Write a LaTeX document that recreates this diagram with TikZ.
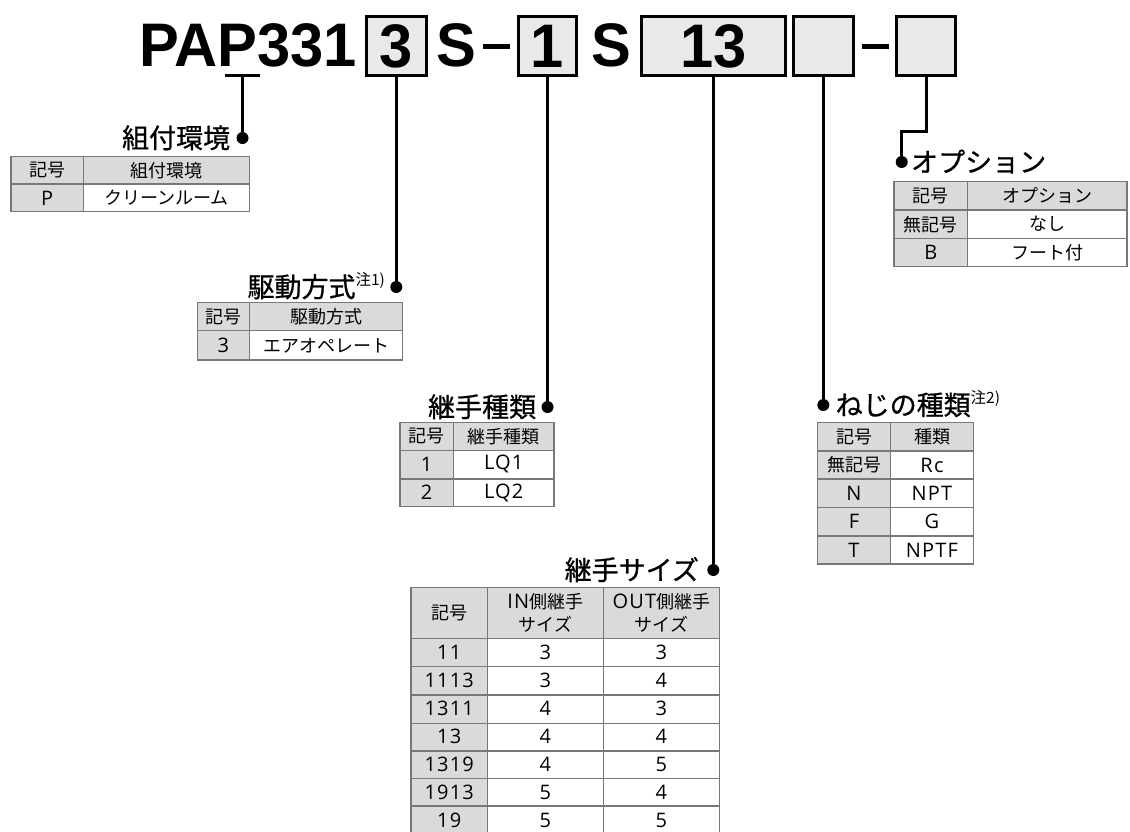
\documentclass[tikz,border=0pt]{standalone}
\usepackage{fontspec}
\newfontfamily\jp{Noto Sans CJK JP}
\newfontfamily\jpttl[FakeBold=0.8]{Noto Sans CJK JP}
\newfontfamily\latfont[LetterSpace=6]{Open Sans}
\newfontfamily\hdfont[FakeStretch=0.97]{Liberation Sans}
\newcommand\notesize{\jp\fontsize{15.5}{15.5}\selectfont}
\newcommand\lat{\latfont\fontsize{20}{23}\selectfont}
\definecolor{boxgray}{RGB}{232,233,233}
\definecolor{cellgray}{RGB}{218,218,218}
\definecolor{linegray}{RGB}{120,120,120}
\tikzset{
	hd/.style={inner sep=0pt, font=\hdfont\bfseries\fontsize{61.5}{61.5}\selectfont},
	code/.style={hd, draw, line width=3pt, fill=boxgray, minimum height=59.3pt},
	bar/.style={fill, inner sep=0pt, minimum width=27pt, minimum height=4.5pt},
	lead/.style={line width=3pt},
	dot/.style={circle, fill, inner sep=0pt, minimum size=12pt},
	ttl/.style={inner sep=0pt, font=\jpttl\fontsize{27}{27}\selectfont},
	cell/.style={inner sep=0pt, align=center, font=\jp\fontsize{18}{23}\selectfont},
	latcell/.style={cell, font=\lat},
	grid/.style={draw=linegray, line width=1.4pt}
}

\begin{document}
\begin{tikzpicture}[x=1pt,y=-1pt]
	\useasboundingbox (0,0) rectangle (1130,831);
	% model code
	\node[hd, anchor=base west] (pap) at (139,66.7) {PAP331};
	\node[code, minimum width=59.7pt] (b3) at (396.3,46.2) {3};
	\node[hd, anchor=base] (s1) at (456.5,66.7) {S};
	\node[bar] (dash1) at (496.5,46.7) {};
	\node[code, minimum width=58.6pt] (b1) at (547.5,46.2) {1};
	\node[hd, anchor=base] (s2) at (611.5,66.7) {S};
	\node[code, minimum width=143.7pt] (b13) at (713.3,46.2) {13};
	\node[code, minimum width=60.3pt] (bthr) at (823.3,46.2) {};
	\node[bar] (dash2) at (875,46.7) {};
	\node[code, minimum width=59.3pt] (bopt) at (926.2,46.2) {};
	\node[fill, inner sep=0pt, minimum width=35pt, minimum height=3.3pt] (pbar) at (242.5,75.5) {};

	% dots and titles
	\node[dot] (d1) at (242.5,138) {};
	\node[dot] (d2) at (396.3,287) {};
	\node[dot] (d3) at (547.5,407) {};
	\node[dot] (d4) at (713.3,570) {};
	\node[dot] (d5) at (823.3,405) {};
	\node[dot] (d6) at (901.7,162) {};
	\node[ttl, anchor=base east] (t1) at ([xshift=-6pt,yshift=-10pt]d1.west) {組付環境};
	\node[ttl, anchor=base east] (t2) at ([xshift=-5pt,yshift=-10pt]d2.west) {駆動方式\raisebox{12pt}{\notesize 注1)}};
	\node[ttl, anchor=base east] (t3) at ([xshift=-5pt,yshift=-10pt]d3.west) {継手種類};
	\node[ttl, anchor=base east] (t4) at ([xshift=-8pt,yshift=-10pt]d4.west) {継手サイズ};
	\node[ttl, anchor=base west] (t5) at ([xshift=6pt,yshift=-10pt]d5.east) {ねじの種類\raisebox{12pt}{\notesize 注2)}};
	\node[ttl, anchor=base west] (t6) at ([xshift=3pt,yshift=-10pt]d6.east) {オプション};

	% leads
	\coordinate (kink) at (901.7,131.7);
	\draw[lead] (pbar.center) -- (d1);
	\draw[lead] (b3.south) -- (d2);
	\draw[lead] (b1.south) -- (d3);
	\draw[lead] (b13.south) -- (d4);
	\draw[lead] (bthr.south) -- (d5);
	\draw[lead] (bopt.south) |- (kink) -- (d6);

	% table: mounting
	\fill[cellgray] (11,156.7) rectangle (249.3,184);
	\fill[cellgray] (11,184) rectangle (83.3,211.7);
	\draw[grid] (11,156.7) rectangle (249.3,211.7);
	\draw[grid] (83.3,156.7) -- (83.3,211.7) (11,184) -- (249.3,184);
	\foreach \k/\v [count=\n] in {記号/組付環境, \lat P/クリーンルーム} {
		\node[cell] (envk\n) at (47.2,{156.7+(\n-0.5)*27.5}) {\k};
		\node[cell] (envv\n) at (166.3,{156.7+(\n-0.5)*27.5}) {\v};
	}

	% table: drive
	\fill[cellgray] (197.3,302.7) rectangle (402.7,330.7);
	\fill[cellgray] (197.3,330.7) rectangle (249.3,360);
	\draw[grid] (197.3,302.7) rectangle (402.7,360);
	\draw[grid] (249.3,302.7) -- (249.3,360) (197.3,330.7) -- (402.7,330.7);
	\foreach \k/\v [count=\n] in {記号/駆動方式, \lat 3/エアオペレート} {
		\node[cell] (drvk\n) at (223.3,{302.7+(\n-0.5)*28.6}) {\k};
		\node[cell] (drvv\n) at (326,{302.7+(\n-0.5)*28.6}) {\v};
	}

	% table: fitting type
	\fill[cellgray] (400,422.3) rectangle (554,450.7);
	\fill[cellgray] (400,450.7) rectangle (453.3,506.5);
	\draw[grid] (400,422.3) rectangle (554,506.5);
	\draw[grid] (453.3,422.3) -- (453.3,506.5);
	\foreach \y in {450.7,479} \draw[grid] (400,\y) -- (554,\y);
	\foreach \k/\v [count=\n] in {記号/継手種類, \lat 1/\lat LQ1, \lat 2/\lat LQ2} {
		\node[cell] (fitk\n) at (426.7,{422.3+(\n-0.5)*28.07}) {\k};
		\node[cell] (fitv\n) at (503.7,{422.3+(\n-0.5)*28.07}) {\v};
	}

	% table: fitting size
	\fill[cellgray] (411,587.7) rectangle (719.3,638.3);
	\fill[cellgray] (411,638.3) rectangle (487.3,840);
	\draw[grid] (411,587.7) rectangle (719.3,840);
	\draw[grid] (487.3,587.7) -- (487.3,840) (603.3,587.7) -- (603.3,840);
	\foreach \y in {638.3,666.7,695,723.3,751,778.3,806} \draw[grid] (411,\y) -- (719.3,\y);
	\node[cell] (szh0) at (449.2,613) {記号};
	\node[cell] (szh1) at (545.3,613) {{\lat IN}側継手\\サイズ};
	\node[cell] (szh2) at (661.3,613) {{\lat OUT}側継手\\サイズ};
	\foreach \c/\i/\o [count=\n] in {11/3/3, 1113/3/4, 1311/4/3, 13/4/4, 1319/4/5, 1913/5/4, 19/5/5} {
		\node[latcell] (sz\n) at (449.2,{638.3+(\n-0.5)*27.95}) {\c};
		\node[latcell] (in\n) at (545.3,{638.3+(\n-0.5)*27.95}) {\i};
		\node[latcell] (out\n) at (661.3,{638.3+(\n-0.5)*27.95}) {\o};
	}

	% table: thread
	\fill[cellgray] (817.3,422.7) rectangle (973.3,451);
	\fill[cellgray] (817.3,451) rectangle (890.7,564);
	\draw[grid] (817.3,422.7) rectangle (973.3,564);
	\draw[grid] (890.7,422.7) -- (890.7,564);
	\foreach \y in {451,479,507.7,536} \draw[grid] (817.3,\y) -- (973.3,\y);
	\foreach \k/\v [count=\n] in {記号/種類, 無記号/\lat Rc, \lat N/\lat NPT, \lat F/\lat G, \lat T/\lat NPTF} {
		\node[cell] (thrk\n) at (854,{422.7+(\n-0.5)*28.26}) {\k};
		\node[cell] (thrv\n) at (932,{422.7+(\n-0.5)*28.26}) {\v};
	}

	% table: option
	\fill[cellgray] (894,181.7) rectangle (1127,210);
	\fill[cellgray] (894,210) rectangle (967.7,266.7);
	\draw[grid] (894,181.7) rectangle (1127,266.7);
	\draw[grid] (967.7,181.7) -- (967.7,266.7);
	\foreach \y in {210,238.3} \draw[grid] (894,\y) -- (1127,\y);
	\foreach \k/\v [count=\n] in {記号/オプション, 無記号/なし, \lat B/フート付} {
		\node[cell] (optk\n) at (930.9,{181.7+(\n-0.5)*28.33}) {\k};
		\node[cell] (optv\n) at (1047.4,{181.7+(\n-0.5)*28.33}) {\v};
	}
\end{tikzpicture}
\end{document}
